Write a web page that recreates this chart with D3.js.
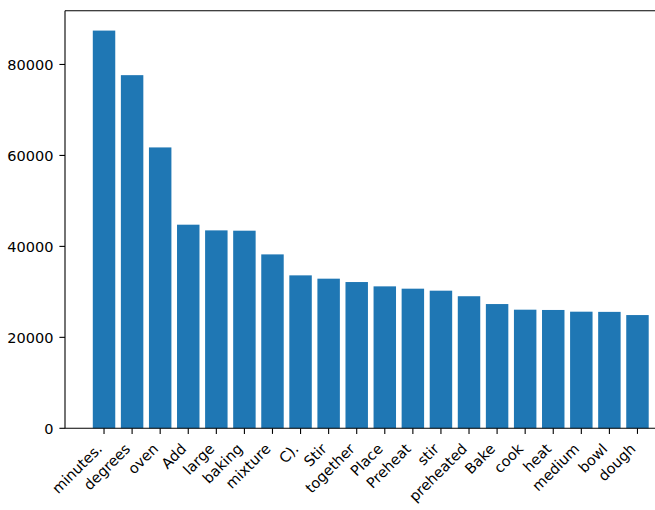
<!DOCTYPE html>
<html>
<head>
<meta charset="utf-8">
<script src="https://cdn.jsdelivr.net/npm/d3@7"></script>
<style>
  html, body { margin: 0; padding: 0; background: #fff; }
  svg { display: block; }
  text { font-family: "DejaVu Sans", sans-serif; fill: #000; }
</style>
</head>
<body>
<svg id="chart" width="655" height="510"></svg>
<script>
const categories = ["minutes.", "degrees", "oven", "Add", "large", "baking", "mixture", "C).", "Stir", "together", "Place", "Preheat", "stir", "preheated", "Bake", "cook", "heat", "medium", "bowl", "dough"];
const counts = [87450, 77650, 61760, 44770, 43520, 43450, 38240, 33630, 32900, 32160, 31210, 30700, 30260, 29040, 27320, 26080, 26020, 25640, 25600, 24900];
const yTicks = [0, 20000, 40000, 60000, 80000];

const W = 655, H = 510;
const pLeft = 65, pRight = 676.5, pTop = 10.7, pBottom = 428.3;
const fs = 14.5;
const tickLen = 5.6, pad = 6.0;

const svg = d3.select("#chart");
svg.append("defs").append("clipPath").attr("id", "clip")
  .append("rect").attr("x", 0).attr("y", 0).attr("width", W).attr("height", H);

const x = d3.scaleBand().domain(categories).range([pLeft, pRight])
  .paddingInner(0.2).paddingOuter(0.99);
const ymax = d3.max(counts) * 1.05;
const y = d3.scaleLinear().domain([0, ymax]).range([pBottom, pTop]);

const g = svg.append("g").attr("clip-path", "url(#clip)");

// bars
g.selectAll("rect.bar").data(categories).join("rect")
  .attr("class", "bar")
  .attr("x", d => x(d))
  .attr("width", x.bandwidth())
  .attr("y", (d, i) => y(counts[i]))
  .attr("height", (d, i) => y(0) - y(counts[i]))
  .attr("fill", "#1f77b4");

// spines
const spine = (x1, y1, x2, y2) => g.append("line")
  .attr("x1", x1).attr("y1", y1).attr("x2", x2).attr("y2", y2)
  .attr("stroke", "#000").attr("stroke-width", 1.1);
spine(pLeft, pTop, pLeft, pBottom);
spine(pLeft, pTop, pRight, pTop);
spine(pLeft, pBottom, pRight, pBottom);
spine(pRight, pTop, pRight, pBottom);

// y axis ticks
const yAxis = svg.append("g");
yTicks.forEach(t => {
  yAxis.append("line").attr("x1", pLeft - tickLen).attr("x2", pLeft)
    .attr("y1", y(t)).attr("y2", y(t)).attr("stroke", "#000").attr("stroke-width", 1.1);
  yAxis.append("text").attr("x", pLeft - tickLen - pad).attr("y", y(t))
    .attr("dy", "0.36em").attr("text-anchor", "end").attr("font-size", fs)
    .text(t);
});

// x axis ticks
const xAxis = svg.append("g");
categories.forEach(c => {
  const cx = x(c) + x.bandwidth() / 2;
  xAxis.append("line").attr("x1", cx).attr("x2", cx)
    .attr("y1", pBottom).attr("y2", pBottom + tickLen).attr("stroke", "#000").attr("stroke-width", 1.1);
  xAxis.append("text")
    .attr("transform", `translate(${cx - 1},${pBottom + 21.5}) rotate(-45)`)
    .attr("text-anchor", "end").attr("font-size", fs)
    .text(c);
});
</script>
</body>
</html>
